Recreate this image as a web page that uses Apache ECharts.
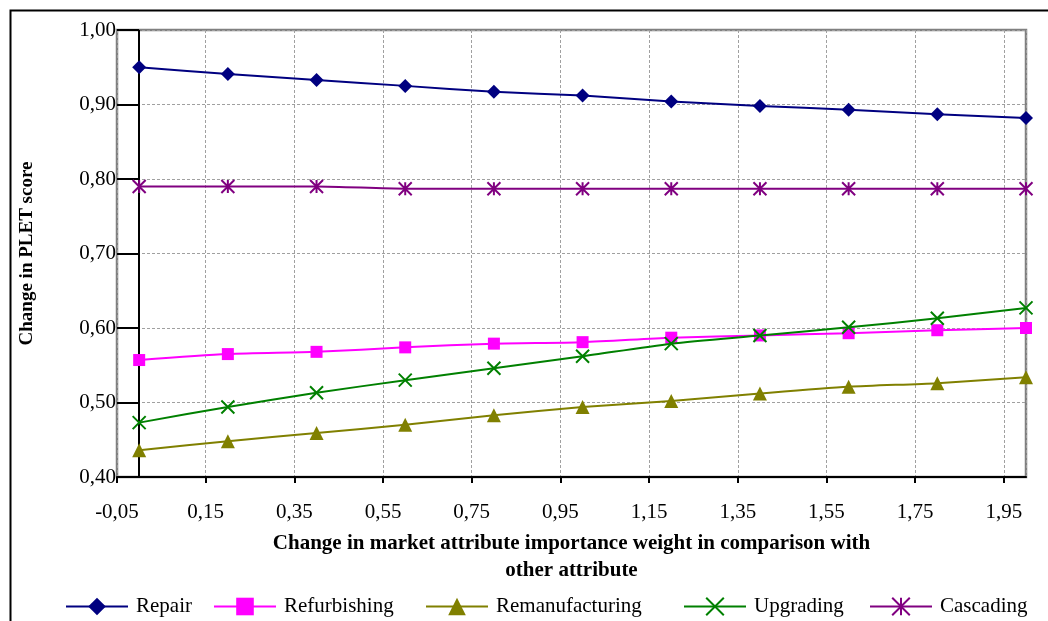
<!DOCTYPE html>
<html>
<head>
<meta charset="utf-8">
<script src="https://cdn.jsdelivr.net/npm/echarts@6/dist/echarts.min.js"></script>
<style>
html,body{margin:0;padding:0;background:#fff;}
#chart{width:1048px;height:621px;}
</style>
</head>
<body>
<div id="chart"></div>
<script>
const xValues = [0, 0.2, 0.4, 0.6, 0.8, 1.0, 1.2, 1.4, 1.6, 1.8, 2.0];
const seriesNames = ['Repair', 'Refurbishing', 'Remanufacturing', 'Upgrading', 'Cascading'];
const repair = [0.950, 0.941, 0.933, 0.925, 0.917, 0.912, 0.904, 0.898, 0.893, 0.887, 0.882];
const refurbishing = [0.557, 0.565, 0.568, 0.574, 0.579, 0.581, 0.587, 0.590, 0.593, 0.597, 0.600];
const remanufacturing = [0.436, 0.448, 0.459, 0.470, 0.483, 0.494, 0.502, 0.512, 0.521, 0.526, 0.534];
const upgrading = [0.473, 0.494, 0.513, 0.530, 0.546, 0.562, 0.579, 0.590, 0.601, 0.613, 0.627];
const cascading = [0.790, 0.790, 0.790, 0.787, 0.787, 0.787, 0.787, 0.787, 0.787, 0.787, 0.787];
const yTitle = 'Change in PLET score';
const xTitle = 'Change in market attribute importance weight in comparison with\nother attribute';

const FONT = "'Liberation Serif', 'Times New Roman', serif";
const colors = ['#000080', '#FF00FF', '#808000', '#008000', '#800080'];
const symbols = ['diamond', 'rect', 'triangle',
  'path://M0,0L10,10M10,0L0,10',
  'path://M0,0L10,10M10,0L0,10M5,0L5,10'];
const symbolSizes = [14, 12, 14, 13, 13];
const allData = [repair, refurbishing, remanufacturing, upgrading, cascading];
const legendLeft = [65, 213, 425, 683, 869];

const fmt = v => (Math.round(v * 100) / 100).toFixed(2).replace('.', ',');

const series = seriesNames.map((name, i) => {
  const isPath = i >= 3;
  const s = {
    name: name,
    type: 'line',
    smooth: 0.25,
    data: xValues.map((x, j) => [x, allData[i][j]]),
    symbol: symbols[i],
    symbolSize: symbolSizes[i],
    showAllSymbol: true,
    lineStyle: { color: colors[i], width: 2 },
    itemStyle: isPath
      ? { color: colors[i], borderColor: colors[i], borderWidth: 2 }
      : { color: colors[i] },
    emphasis: { disabled: true },
    z: 5 + i
  };
  if (i === 0) {
    s.markLine = {
      silent: true,
      symbol: ['none', 'none'],
      label: { show: false },
      lineStyle: { color: '#000', type: 'solid', width: 2 },
      data: [{ xAxis: 0 }],
      z: 3
    };
  }
  return s;
});

const legends = seriesNames.map((name, i) => ({
  data: [name],
  left: legendLeft[i],
  top: 596,
  padding: 0,
  itemWidth: 62,
  itemHeight: 22,
  itemGap: 0,
  selectedMode: false,
  textStyle: { fontFamily: FONT, fontSize: 21, color: '#000', padding: [0, 0, 0, 3] }
}));

const chart = echarts.init(document.getElementById('chart'));
chart.setOption({
  animation: false,
  backgroundColor: '#fff',
  graphic: [{
    type: 'rect',
    left: 8, top: 8,
    shape: { x: 0, y: 0, width: 1100, height: 700 },
    style: { fill: 'none', stroke: '#000', lineWidth: 2 },
    z: -10
  }],
  grid: {
    left: 117, right: 22, top: 30, bottom: 144,
    show: true,
    borderColor: '#808080',
    borderWidth: 2.5,
    backgroundColor: '#fff'
  },
  legend: legends,
  xAxis: {
    type: 'value',
    min: -0.05,
    max: 2.0,
    interval: 0.2,
    name: xTitle,
    nameLocation: 'middle',
    nameGap: 53,
    nameTextStyle: { fontFamily: FONT, fontSize: 21, fontWeight: 'bold', color: '#000', lineHeight: 27 },
    axisLine: { show: true, onZero: false, lineStyle: { color: '#000', width: 2 } },
    axisTick: { show: true, length: 6, lineStyle: { color: '#000', width: 2 } },
    axisLabel: {
      fontFamily: FONT, fontSize: 21, color: '#000', margin: 25,
      showMaxLabel: false,
      formatter: fmt
    },
    splitLine: { show: true, lineStyle: { color: '#a0a0a0', type: [3, 2], width: 1 } }
  },
  yAxis: {
    type: 'value',
    min: 0.4,
    max: 1.0,
    interval: 0.1,
    name: yTitle,
    nameLocation: 'middle',
    nameGap: 80,
    nameRotate: 90,
    nameTextStyle: { fontFamily: FONT, fontSize: 19, fontWeight: 'bold', color: '#000' },
    axisLine: { show: false, onZero: false },
    axisTick: { show: true, inside: true, length: 22, lineStyle: { color: '#000', width: 2 } },
    axisLabel: {
      fontFamily: FONT, fontSize: 21, color: '#000', margin: 1,
      formatter: fmt
    },
    splitLine: { show: true, lineStyle: { color: '#a0a0a0', type: [3, 2], width: 1 } }
  },
  series: series
});
</script>
</body>
</html>
